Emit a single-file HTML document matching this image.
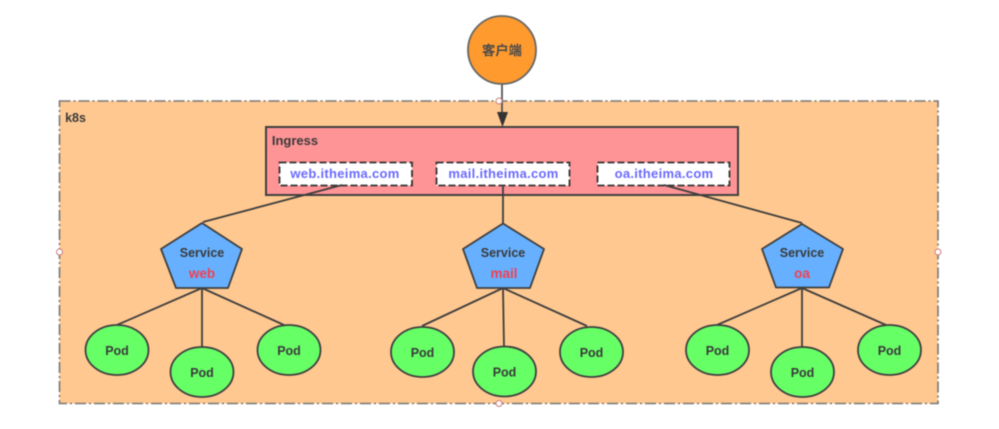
<!DOCTYPE html>
<html>
<head>
<meta charset="utf-8">
<style>
html,body{margin:0;padding:0;background:#fff;width:999px;height:429px;overflow:hidden}
svg{display:block;filter:blur(0.45px)}
text{font-family:"Liberation Sans","Noto Sans CJK SC",sans-serif;font-weight:bold;font-size:12.5px;text-anchor:middle;fill:#3a3a3a}
.url{font-size:13px;letter-spacing:0.3px;fill:#6a6aff}
.red{font-size:13.5px;fill:#f2404f}
</style>
</head>
<body>
<svg width="999" height="429" viewBox="0 0 999 429" xmlns="http://www.w3.org/2000/svg">
<rect width="999" height="429" fill="#fff"/>
<rect x="59.5" y="101" width="878.5" height="302.5" fill="#ffc890" stroke="#777" stroke-width="1.6" stroke-dasharray="11 3 2 3"/>
<text x="75.500" y="122">k8s</text>

<!-- connector client to ingress -->
<line x1="502" y1="84" x2="502" y2="114" stroke="#444" stroke-width="1.6"/>
<polygon points="497,112 508,112 502.500,127" fill="#333"/>

<circle cx="502" cy="50" r="34" fill="#ff9a2e" stroke="#666" stroke-width="1.8"/>
<text x="502" y="55" style="font-size:13.300px;fill:#4a4a4a">客户端</text>

<!-- Ingress -->
<rect x="266" y="127" width="472" height="68" fill="#ff9496" stroke="#3f3f3f" stroke-width="2"/>
<text x="295" y="145" style="font-size:13px">Ingress</text>
<rect x="279.500" y="162.500" width="132.500" height="23" fill="#fff" stroke="#333" stroke-width="1.800" stroke-dasharray="7 3"/>
<rect x="436.500" y="162.500" width="133" height="23" fill="#fff" stroke="#333" stroke-width="1.800" stroke-dasharray="7 3"/>
<rect x="597.500" y="162.500" width="132" height="23" fill="#fff" stroke="#333" stroke-width="1.800" stroke-dasharray="7 3"/>
<text x="345" y="178" class="url">web.itheima.com</text>
<text x="503.500" y="178" class="url">mail.itheima.com</text>
<text x="664" y="178" class="url">oa.itheima.com</text>

<!-- connectors ingress to services -->
<g stroke="#3d3d3d" stroke-width="1.800" fill="none">
<line x1="342" y1="185" x2="203" y2="222"/>
<line x1="503" y1="186" x2="503" y2="223"/>
<line x1="664" y1="185" x2="802" y2="223"/>

<line x1="202" y1="288" x2="117" y2="325"/>
<line x1="202" y1="288" x2="202" y2="347"/>
<line x1="202" y1="288" x2="284" y2="325"/>

<line x1="503" y1="288" x2="422" y2="326"/>
<line x1="503" y1="288" x2="504" y2="347"/>
<line x1="503" y1="288" x2="587" y2="326"/>

<line x1="802" y1="288" x2="717" y2="325"/>
<line x1="802" y1="288" x2="802" y2="347"/>
<line x1="802" y1="288" x2="886" y2="325"/>
</g>

<!-- services -->
<g fill="#66b0ff" stroke="#3f3f3f" stroke-width="1.800" stroke-linejoin="round">
<polygon points="202,223 242,249 228,288 176,288 161,249"/>
<polygon points="503,223.500 544,249 530,288 477,288 463,249"/>
<polygon points="802,224 843,249 829,287.500 776,287.500 762,249"/>
</g>
<text x="202" y="257">Service</text>
<text x="202" y="278" class="red">web</text>
<text x="503" y="257">Service</text>
<text x="504" y="278" class="red">mail</text>
<text x="802" y="257">Service</text>
<text x="802" y="278" class="red">oa</text>

<!-- pods -->
<g fill="#66ff66" stroke="#3f3f3f" stroke-width="1.800">
<ellipse cx="117" cy="350" rx="31.500" ry="25"/>
<ellipse cx="202" cy="372" rx="31.500" ry="25"/>
<ellipse cx="289" cy="350" rx="31.500" ry="25"/>
<ellipse cx="422.500" cy="352" rx="31.500" ry="25"/>
<ellipse cx="504.500" cy="371.500" rx="31.500" ry="25"/>
<ellipse cx="591.500" cy="352" rx="31.500" ry="25"/>
<ellipse cx="717.500" cy="350" rx="31.500" ry="25"/>
<ellipse cx="802.500" cy="372" rx="31.500" ry="25"/>
<ellipse cx="889.500" cy="350" rx="31.500" ry="25"/>
</g>
<text x="117" y="355">Pod</text>
<text x="202" y="377">Pod</text>
<text x="289" y="355">Pod</text>
<text x="422.500" y="357">Pod</text>
<text x="504.500" y="376.500">Pod</text>
<text x="591.500" y="357">Pod</text>
<text x="717.500" y="355">Pod</text>
<text x="802.500" y="377">Pod</text>
<text x="889.500" y="355">Pod</text>

<!-- selection handles -->
<g fill="#fff" stroke="#c98080" stroke-width="1">
<circle cx="499" cy="101" r="3"/>
<circle cx="59.500" cy="252" r="3"/>
<circle cx="938" cy="252" r="3"/>
<circle cx="499" cy="403.500" r="3"/>
</g>
</svg>
</body>
</html>
